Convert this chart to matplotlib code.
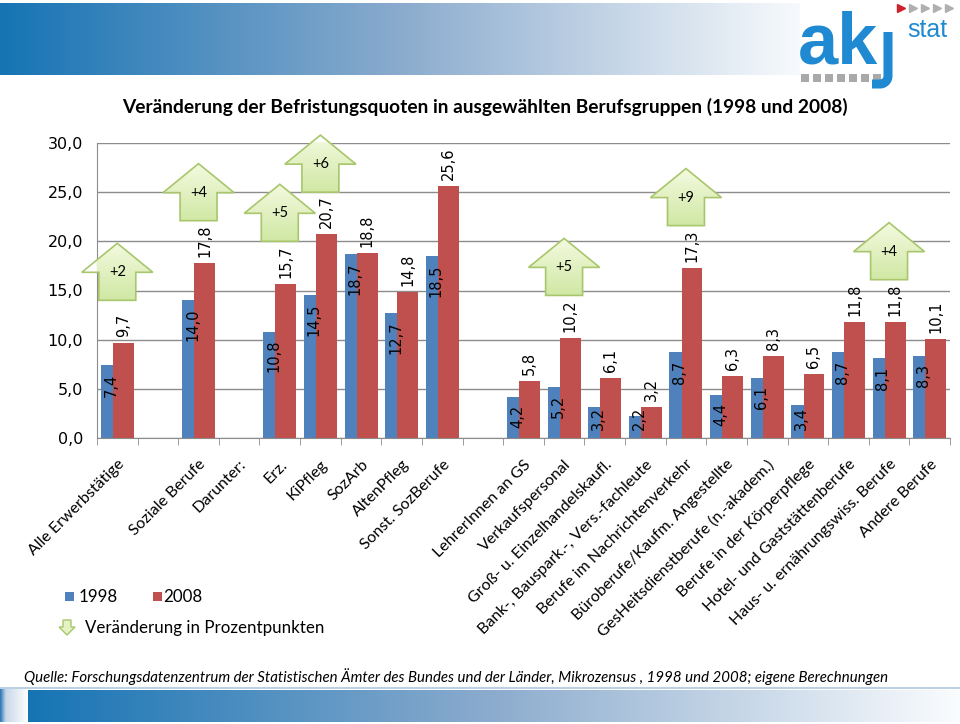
import numpy as np
import matplotlib
matplotlib.use('Agg')
import matplotlib.pyplot as plt
from matplotlib.patches import Polygon, Rectangle

# Befristungsquoten in % (empty strings = gaps in the chart)
categories = ['Alle Erwerbstätige', '', 'Soziale Berufe', 'Darunter:', 'Erz.', 'KiPfleg', 'SozArb',
              'AltenPfleg', 'Sonst. SozBerufe', '', 'LehrerInnen an GS', 'Verkaufspersonal',
              'Groß- u. Einzelhandelskaufl.', 'Bank-, Bauspark.-, Vers.-fachleute',
              'Berufe im Nachrichtenverkehr', 'Büroberufe/Kaufm. Angestellte',
              'GesHeitsdienstberufe (n.-akadem.)', 'Berufe in der Körperpflege',
              'Hotel- und Gaststättenberufe', 'Haus- u. ernährungswiss. Berufe', 'Andere Berufe']
quote_1998 = [7.4, np.nan, 14.0, np.nan, 10.8, 14.5, 18.7, 12.7, 18.5, np.nan, 4.2, 5.2,
              3.2, 2.2, 8.7, 4.4, 6.1, 3.4, 8.7, 8.1, 8.3]
quote_2008 = [9.7, np.nan, 17.8, np.nan, 15.7, 20.7, 18.8, 14.8, 25.6, np.nan, 5.8, 10.2,
              6.1, 3.2, 17.3, 6.3, 8.3, 6.5, 11.8, 11.8, 10.1]
arrow_cats = [0, 2, 4, 5, 11, 14, 19]   # categories with a "Veränderung" arrow
y_ticks = [0, 5, 10, 15, 20, 25, 30]

BLUE = '#4f81bd'
RED = '#c0504d'
GRID = '#8c8c8c'
CAL = 'Lato'   # stand-in for Calibri


def gradient_rgb(n, stops):
    # stops: list of (pos, (r,g,b)) in 0..255
    pos = [s[0] for s in stops]
    t = np.linspace(0, 1, n)
    out = np.zeros((1, n, 3))
    for c in range(3):
        out[0, :, c] = np.interp(t, pos, [s[1][c] for s in stops]) / 255.0
    return out


def fmt(v):
    return ('%.1f' % v).replace('.', ',')


fig = plt.figure(figsize=(9.6, 7.24), dpi=100)

# decoration layer in pixel coords
deco = fig.add_axes([0, 0, 1, 1], zorder=0)
deco.set_xlim(0, 960); deco.set_ylim(724, 0); deco.axis('off')
banner_stops = [(0.0, (22, 116, 180)), (0.5, (140, 172, 206)), (1.0, (250, 252, 254))]
deco.imshow(gradient_rgb(400, banner_stops), extent=[0, 810, 75, 3], aspect='auto')
deco.imshow(gradient_rgb(400, banner_stops), extent=[28, 960, 722, 690], aspect='auto')
deco.imshow(gradient_rgb(50, [(0, (40, 120, 180)), (0.2, (200, 215, 232)), (1, (255, 255, 255))]),
            extent=[0, 28, 722, 687], aspect='auto')
deco.add_patch(Rectangle((0, 687), 960, 2, color='#bcd0e4', lw=0))
deco.set_xlim(0, 960); deco.set_ylim(724, 0)

# akjstat logo
deco.add_patch(Rectangle((800, 3), 160, 84, color='white', lw=0))
logo_blue = '#1f8ad2'
deco.text(798, 63, 'ak', fontsize=52, family='Liberation Sans', fontweight='bold',
          color=logo_blue, va='baseline')
t = np.linspace(0, np.pi / 2, 20)
jx = np.concatenate([[888, 888], 880 + 8 * np.cos(t), [872]])
jy = np.concatenate([[32, 76], 76 + 8 * np.sin(t), [84]])
deco.plot(jx, jy, color=logo_blue, lw=6.5, solid_capstyle='butt')
deco.text(907, 37, 'stat', fontsize=18, family='Liberation Sans', color=logo_blue, va='baseline')
for i in range(7):
    deco.add_patch(Rectangle((801 + i * 12, 74), 8, 8, color='#a9a9a9', lw=0))
deco.plot([901], [8], marker='>', ms=6, color='#d0202a', ls='none')
deco.plot([913, 925, 937, 949], [8] * 4, marker='>', ms=6, color='#b0b0b0', ls='none')

# title
fig.text(485 / 960, 1 - 107 / 724,
         'Veränderung der Befristungsquoten in ausgewählten Berufsgruppen (1998 und 2008)',
         ha='center', va='center', fontsize=13.8, fontweight='bold', family=CAL)

# main chart
ax = fig.add_axes([97 / 960, 1 - 438 / 724, (950 - 97) / 960, (438 - 143) / 724], zorder=1)
ax.patch.set_alpha(0)
x = np.arange(len(categories))
q98 = np.array(quote_1998)
q08 = np.array(quote_2008)
ax.bar(x - 0.15, q98, width=0.512, color=BLUE, zorder=2)
ax.bar(x + 0.15, q08, width=0.512, color=RED, zorder=3)

ax.set_xlim(-0.5, len(categories) - 0.5)
ax.set_ylim(0, 30)
ax.set_yticks(y_ticks)
ax.set_yticklabels([fmt(v) for v in y_ticks], fontsize=11.5, family='DejaVu Sans')
ax.tick_params(axis='y', length=0, pad=10)
ax.set_axisbelow(True)
ax.yaxis.grid(True, color=GRID, lw=1)
for s in ['top', 'right']:
    ax.spines[s].set_visible(False)
for s in ['left', 'bottom']:
    ax.spines[s].set_color(GRID)
ax.set_xticks(x)
ax.set_xticklabels(categories, rotation=45, ha='right', va='top', rotation_mode='anchor',
                   fontsize=11.5, family=CAL)
ax.set_xticks(np.arange(-0.5, len(categories)), minor=True)
ax.tick_params(axis='x', which='major', length=0, pad=14)
ax.tick_params(axis='x', which='minor', length=5, color=GRID)

# value labels
blue_labels = []
for i in range(len(categories)):
    if np.isnan(q98[i]):
        continue
    a = ax.annotate(fmt(q98[i]), (x[i] - 0.15, q98[i]), xytext=(0, -5.8), textcoords='offset points',
                    rotation=90, ha='center', va='top', fontsize=10.5, zorder=6)
    blue_labels.append(a)
    ax.annotate(fmt(q08[i]), (x[i] + 0.15, q08[i]), xytext=(0, 4.3), textcoords='offset points',
                rotation=90, ha='center', va='bottom', fontsize=10.5, zorder=6)

# arrows with change in percentage points
head_w, body_w, body_h, head_h = 0.875, 0.455, 2.85, 2.95
arrow_grad = gradient_rgb(60, [(0, (244, 250, 224)), (1, (208, 232, 164))])
arrow_grad = np.transpose(arrow_grad, (1, 0, 2))
for c in arrow_cats:
    b = q08[c] + 4.3
    pts = [(c - body_w, b), (c + body_w, b), (c + body_w, b + body_h), (c + head_w, b + body_h),
           (c, b + body_h + head_h), (c - head_w, b + body_h), (c - body_w, b + body_h)]
    poly = Polygon(pts, closed=True, facecolor='none', edgecolor='#a8c66c', lw=1.2,
                   zorder=8, clip_on=False)
    ax.add_patch(poly)
    im = ax.imshow(arrow_grad[::-1], extent=[c - head_w, c + head_w, b, b + body_h + head_h],
                   aspect='auto', zorder=7, origin='lower')
    im.set_clip_path(poly)
    im.set_clip_box(None)
    ax.text(c, b + body_h, '+%d' % round(q08[c] - q98[c]), ha='center', va='center',
            fontsize=10.5, family=CAL, zorder=9)
ax.set_xlim(-0.5, len(categories) - 0.5)
ax.set_ylim(0, 30)

# keep small blue labels above the axis
fig.canvas.draw()
ax_y0 = ax.get_window_extent().y0
for a in blue_labels:
    bb = a.get_window_extent()
    if bb.y0 < ax_y0 + 8:
        a.xyann = (0, a.xyann[1] + (ax_y0 + 8 - bb.y0) * 72 / 100.0)

# legend
deco.add_patch(Rectangle((65, 592), 9, 9, color=BLUE, lw=0))
deco.text(79, 597, '1998', fontsize=12.2, family=CAL, va='center')
deco.add_patch(Rectangle((153, 592), 9, 9, color=RED, lw=0))
deco.text(163, 597, '2008', fontsize=12.2, family=CAL, va='center')
deco.add_patch(Polygon([(63, 620), (71, 620), (71, 627), (75, 627), (67, 635), (59, 627), (63, 627)],
                       closed=True, facecolor='#e4f2c4', edgecolor='#a8c66c', lw=1))
deco.text(85, 628, 'Veränderung in Prozentpunkten', fontsize=12.2, family=CAL, va='center')

# source
deco.text(24, 677, 'Quelle: Forschungsdatenzentrum der Statistischen Ämter des Bundes und der Länder, '
          'Mikrozensus , 1998 und 2008; eigene Berechnungen',
          fontsize=10.8, family=CAL, style='italic', va='center')

fig.savefig('out.png', dpi=100)
